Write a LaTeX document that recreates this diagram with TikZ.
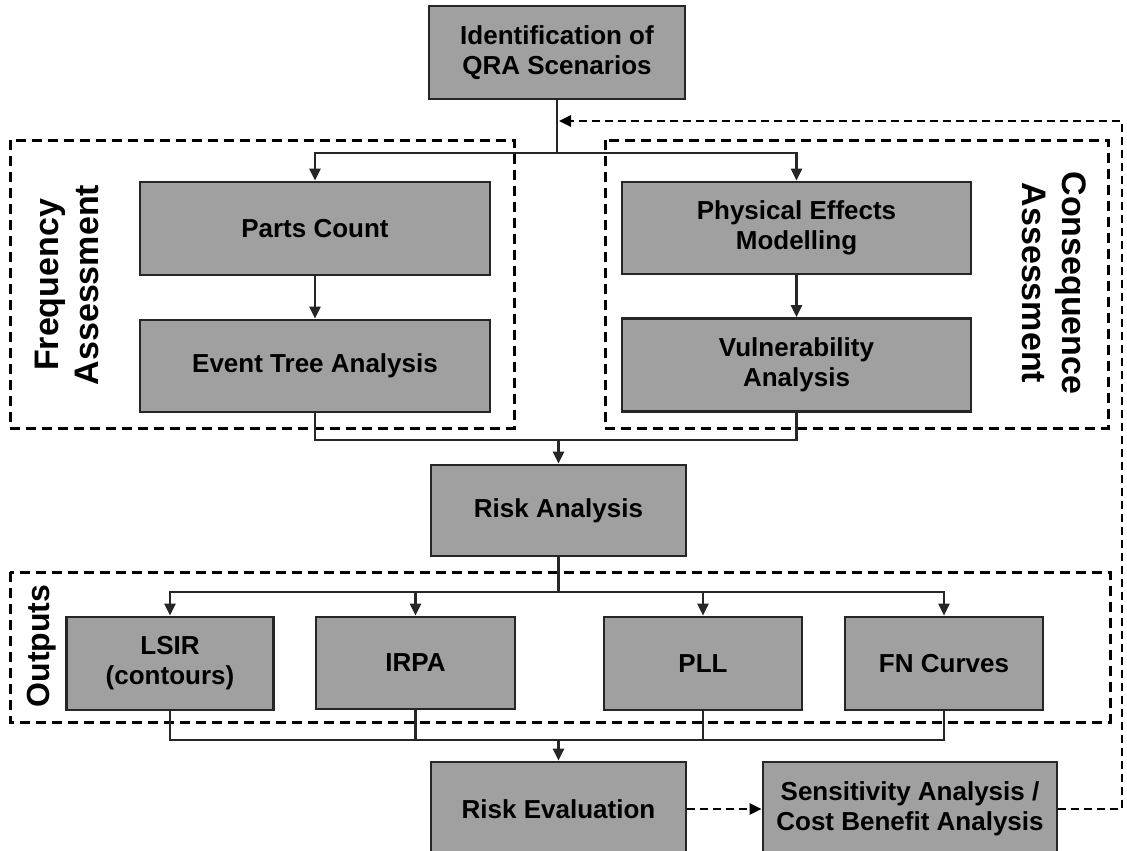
\documentclass[tikz,border=0pt]{standalone}
\usepackage{fontspec}
\setmainfont{Liberation Sans}
\usetikzlibrary{arrows.meta}
\definecolor{boxfill}{HTML}{A0A0A0}
\definecolor{boxline}{HTML}{262626}
\begin{document}
\begin{tikzpicture}[x=1pt,y=-1pt,
  proc/.style={draw=boxline, line width=2.7pt, fill=boxfill, inner sep=0pt, align=center,
    font=\fontsize{26}{30}\selectfont\bfseries},
  conn/.style={draw=boxline, line width=2.3pt},
  arr/.style={conn, -{Triangle[length=12pt,width=11pt]}},
  grp/.style={draw=black, line width=3pt, dash pattern=on 10pt off 6pt},
  dasharr/.style={draw=black, line width=2.5pt, dash pattern=on 8pt off 5pt, -{Triangle[length=12pt,width=11pt]}},
  lbl/.style={font=\fontsize{34}{40}\selectfont\bfseries, align=center, inner sep=0pt}]
\useasboundingbox (0,0) rectangle (1127,851);
\clip (0,0) rectangle (1127,851);
\fill[white] (0,0) rectangle (1127,851);

% group frames
\draw[grp] (10,140) rectangle (514,428);
\draw[grp] (605,140) rectangle (1108,428);
\draw[grp] (10,572) rectangle (1110,722);

% boxes
\node[proc, minimum width=256pt, minimum height=93pt] (top) at (557,52.5) {Identification of\\QRA Scenarios};
\node[proc, minimum width=350pt, minimum height=93pt] (parts) at (315,228.5) {Parts Count};
\node[proc, minimum width=350pt, minimum height=92pt] (event) at (315,366) {Event Tree Analysis};
\node[proc, minimum width=349pt, minimum height=92pt] (phys) at (796.5,228) {Physical Effects\\Modelling};
\node[proc, minimum width=349pt, minimum height=93pt] (vuln) at (796.5,365) {Vulnerability\\Analysis};
\node[proc, minimum width=255pt, minimum height=91pt] (risk) at (558.5,510.5) {Risk Analysis};
\node[proc, minimum width=207pt, minimum height=93pt] (lsir) at (170,663.5) {LSIR\\(contours)};
\node[proc, minimum width=199pt, minimum height=92pt] (irpa) at (415.5,663) {IRPA};
\node[proc, minimum width=198pt, minimum height=93pt] (pll) at (703,663.5) {PLL};
\node[proc, minimum width=198pt, minimum height=93pt] (fn) at (944,663.5) {FN Curves};
\node[proc, minimum width=255pt, minimum height=94pt] (reval) at (558.5,809) {Risk Evaluation};
\node[proc, minimum width=294pt, minimum height=94pt] (sens) at (910,809) {Sensitivity Analysis /\\Cost Benefit Analysis};

% group labels
\node[lbl, rotate=90] (flbl) at (67,285) {Frequency\\Assessment};
\node[lbl, rotate=-90] (clbl) at (1054,283) {Consequence\\Assessment};
\node[lbl, rotate=90, font=\fontsize{32}{38}\selectfont\bfseries] (olbl) at (42,646) {Outputs};

% connectors
\coordinate (b1) at (557,153);
\draw[conn] (top.south) -- (b1);
\draw[arr] (b1) -| (parts.north);
\draw[arr] (b1) -| (phys.north);
\draw[arr] (parts) -- (event);
\draw[arr] (phys) -- (vuln);
\coordinate (m1) at (558.5,440);
\draw[conn] (event.south) |- (m1);
\draw[conn] (vuln.south) |- (m1);
\draw[arr] (m1) -- (risk.north);
\coordinate (b2) at (558.5,592);
\draw[conn] (risk.south) -- (b2);
\draw[arr] (b2) -| (lsir.north);
\draw[arr] (b2) -| (irpa.north);
\draw[arr] (b2) -| (pll.north);
\draw[arr] (b2) -| (fn.north);
\coordinate (m2) at (558.5,740);
\draw[conn] (lsir.south) |- (m2);
\draw[conn] (irpa.south) |- (m2);
\draw[conn] (pll.south) |- (m2);
\draw[conn] (fn.south) |- (m2);
\draw[arr] (m2) -- (reval.north);
\draw[dasharr] (reval.east) -- (sens.west);
\coordinate (rc) at (1122,121);
\coordinate (ret) at (559,121);
\draw[dasharr] (sens.east) -| (rc) -- (ret);
\end{tikzpicture}
\end{document}
